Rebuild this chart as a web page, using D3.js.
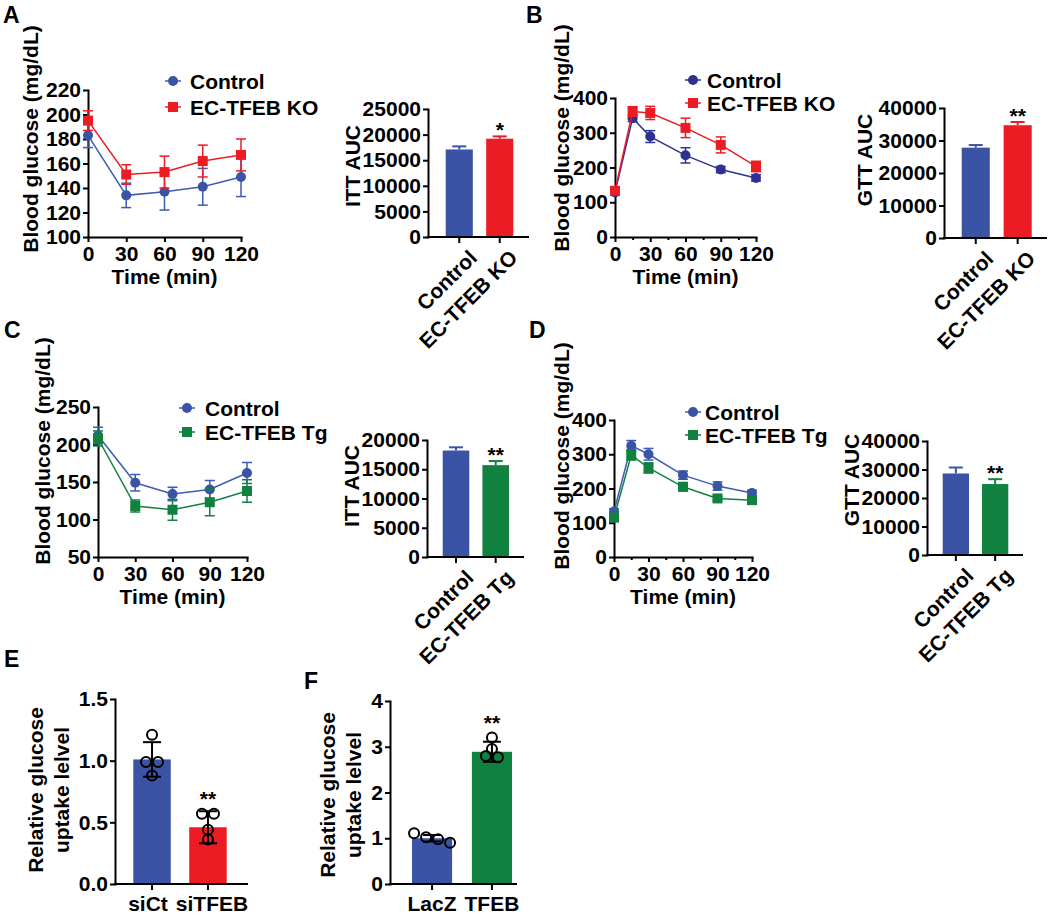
<!DOCTYPE html>
<html><head><meta charset="utf-8">
<script src="https://cdn.jsdelivr.net/npm/d3@7"></script>
<style>
body{margin:0;background:#fff}
svg text{font-family:"Liberation Sans",Arial,Helvetica,sans-serif;font-weight:bold;fill:#000}
</style></head><body>
<svg id="c" width="1049" height="916"></svg>
<script>
// ---------------- DATA ----------------
const timeTicks = [0, 30, 60, 90, 120];
const minorTicks = [15, 45, 75, 105];

// Panel A (ITT, EC-TFEB KO)
const A_time = [0, 30, 60, 90, 120];
const A_ctrl = [183, 134, 137, 141, 149];
const A_ctrlErr = [10, 10, 15, 15, 16];
const A_ko = [195, 151, 153, 162, 167];
const A_koErr = [8, 8, 13, 13, 13];
const A_yTicks = [100, 120, 140, 160, 180, 200, 220];

// Panel B (GTT, EC-TFEB KO)
const B_time = [0, 15, 30, 60, 90, 120];
const B_ctrl = [128, 342, 289, 235, 194, 170];
const B_ctrlErr = [8, 10, 17, 22, 9, 9];
const B_ko = [133, 361, 357, 314, 265, 203];
const B_koErr = [10, 14, 19, 28, 23, 15];
const B_yTicks = [0, 100, 200, 300, 400];

// Panel C (ITT, EC-TFEB Tg)
const C_time = [0, 30, 60, 90, 120];
const C_ctrl = [212, 149, 134, 140, 162];
const C_ctrlErr = [11, 11, 9, 12, 14];
const C_tg = [208, 118, 113, 123, 138];
const C_tgErr = [10, 8, 14, 18, 15];
const C_yTicks = [50, 100, 150, 200, 250];

// Panel D (GTT, EC-TFEB Tg)
const D_time = [0, 15, 30, 60, 90, 120];
const D_ctrl = [133, 325, 300, 239, 207, 187];
const D_ctrlErr = [8, 15, 17, 12, 12, 8];
const D_tg = [115, 298, 260, 205, 171, 166];
const D_tgErr = [8, 15, 15, 12, 6, 6];
const D_yTicks = [0, 100, 200, 300, 400];

// AUC bar panels
const catsKO = ["Control", "EC-TFEB KO"];
const catsTg = ["Control", "EC-TFEB Tg"];
const A_auc = [17100, 19200];
const A_aucErr = [600, 450];
const A_aucTicks = [0, 5000, 10000, 15000, 20000, 25000];
const A_sig = ["", "*"];
const B_auc = [27800, 34700];
const B_aucErr = [800, 1000];
const B_aucTicks = [0, 10000, 20000, 30000, 40000];
const B_sig = ["", "**"];
const C_auc = [18200, 15700];
const C_aucErr = [550, 700];
const C_aucTicks = [0, 5000, 10000, 15000, 20000];
const C_sig = ["", "**"];
const D_auc = [28600, 24900];
const D_aucErr = [2100, 1700];
const D_aucTicks = [0, 10000, 20000, 30000, 40000];
const D_sig = ["", "**"];

// Panel E (glucose uptake, siRNA)
const E_cats = ["siCt", "siTFEB"];
const E_mean = [1.01, 0.46];
const E_sd = [0.14, 0.13];
const E_pts = [[1.21, 0.99, 0.99, 0.88], [0.57, 0.57, 0.44, 0.36]];
const E_ticks = [0, 0.5, 1.0, 1.5];
const E_sig = ["", "**"];

// Panel F (glucose uptake, overexpression)
const F_cats = ["LacZ", "TFEB"];
const F_mean = [1.0, 2.89];
const F_sd = [0.07, 0.22];
const F_pts = [[1.11, 1.02, 0.98, 0.90], [3.20, 2.95, 2.80, 2.77]];
const F_ticks = [0, 1, 2, 3, 4];
const F_sig = ["", "**"];

// ---------------- STYLE ----------------
const BLUE = "#3A53A4", RED = "#EC1C24", GREEN = "#118140";
const LBLUE = "#3F5BB3", NAVY = "#2E3192";
const FS = 21;
const svg = d3.select("#c");

function styleAxis(g) {
  g.attr("font-size", FS).attr("font-family", null);
  g.selectAll("path,line").attr("stroke", "#000").attr("stroke-width", 2);
  g.select(".domain").attr("stroke-linecap", "square");
  g.selectAll("text").attr("fill", "#000");
}
function letter(t, x, y) {
  svg.append("text").attr("x", x).attr("y", y).attr("font-size", 23).text(t);
}
function yLabel(lines, x, yc, gap) {
  lines.forEach((t, i) => {
    svg.append("text").attr("transform", `translate(${x + i * gap},${yc}) rotate(-90)`)
      .attr("text-anchor", "middle").attr("font-size", FS).text(t);
  });
}

// ---------------- LINE PANELS ----------------
function marker(g, shape, cx, cy, color) {
  if (shape === "circle") g.append("circle").attr("cx", cx).attr("cy", cy).attr("r", 5).attr("fill", color);
  else g.append("rect").attr("x", cx - 5).attr("y", cy - 5).attr("width", 10).attr("height", 10).attr("fill", color);
}
function linePanel(o) {
  const x = d3.scaleLinear().domain([0, 120]).range(o.xr);
  const y = d3.scaleLinear().domain([o.yTicks[0], o.yTicks[o.yTicks.length - 1]]).range(o.yr);
  const gx = svg.append("g").attr("transform", `translate(0,${o.yr[0]})`)
    .call(d3.axisBottom(x).tickValues(timeTicks).tickSize(5).tickPadding(4).tickSizeOuter(0));
  styleAxis(gx);
  if (o.minor) {
    const gm = svg.append("g").attr("transform", `translate(0,${o.yr[0]})`)
      .call(d3.axisBottom(x).tickValues(minorTicks).tickSize(3).tickFormat(""));
    gm.select(".domain").remove();
    styleAxis(gm);
  }
  const gy = svg.append("g").attr("transform", `translate(${o.xr[0]},0)`)
    .call(d3.axisLeft(y).tickValues(o.yTicks).tickSize(5).tickPadding(2).tickSizeOuter(0));
  styleAxis(gy);
  svg.append("text").attr("x", (o.xr[0] + o.xr[1]) / 2).attr("y", o.yr[0] + 47)
    .attr("text-anchor", "middle").attr("font-size", FS).text("Time (min)");
  yLabel(["Blood glucose (mg/dL)"], o.ylx, o.ylc, 0);

  o.series.forEach(s => {
    const g = svg.append("g");
    s.vals.forEach((v, i) => {
      const cx = x(o.time[i]);
      g.append("line").attr("x1", cx).attr("x2", cx).attr("y1", y(v - s.err[i])).attr("y2", y(v + s.err[i]))
        .attr("stroke", s.color).attr("stroke-width", 1.5);
      [v - s.err[i], v + s.err[i]].forEach(e => g.append("line").attr("x1", cx - 5).attr("x2", cx + 5)
        .attr("y1", y(e)).attr("y2", y(e)).attr("stroke", s.color).attr("stroke-width", 1.5));
    });
    g.append("path").datum(s.vals)
      .attr("d", d3.line().x((d, i) => x(o.time[i])).y(d => y(d)))
      .attr("fill", "none").attr("stroke", s.color).attr("stroke-width", 1.5);
    s.vals.forEach((v, i) => marker(g, s.shape, x(o.time[i]), y(v), s.mcolor));
  });
  o.series.forEach((s, i) => {
    const ly = o.leg[1] + i * o.legGap;
    svg.append("line").attr("x1", o.leg[0] - 8).attr("x2", o.leg[0] + 8).attr("y1", ly).attr("y2", ly)
      .attr("stroke", s.color).attr("stroke-width", 1.5);
    marker(svg, s.shape, o.leg[0], ly, s.mcolor);
    svg.append("text").attr("x", o.legText).attr("y", ly).attr("dy", "0.36em")
      .attr("font-size", FS).text(s.name);
  });
}

// ---------------- BAR PANELS ----------------
function barPanel(o) {
  const y = d3.scaleLinear().domain([0, o.ticks[o.ticks.length - 1]]).range([o.axisY, o.topY]);
  const xb = d3.scaleBand().domain(o.cats).range(o.band).paddingInner(0.33);
  const gy = svg.append("g").attr("transform", `translate(${o.axisX},0)`)
    .call(d3.axisLeft(y).tickValues(o.ticks).tickSize(5).tickPadding(2).tickSizeOuter(0)
      .tickFormat(o.fmt || d3.format("d")));
  styleAxis(gy);
  const flatLabels = [];
  o.cats.forEach((c, i) => {
    const x0 = xb(c), w = xb.bandwidth(), cx = x0 + w / 2, v = o.vals[i];
    svg.append("rect").attr("x", x0).attr("y", y(v)).attr("width", w).attr("height", y(0) - y(v))
      .attr("fill", o.colors[i]);
    let top;
    if (o.pts) {
      const lo = y(v - o.err[i]), hi = y(v + o.err[i]);
      svg.append("line").attr("x1", cx).attr("x2", cx).attr("y1", lo).attr("y2", hi).attr("stroke", "#000").attr("stroke-width", 2);
      [lo, hi].forEach(e => svg.append("line").attr("x1", cx - 9).attr("x2", cx + 9).attr("y1", e).attr("y2", e).attr("stroke", "#000").attr("stroke-width", 2));
      const r = 5, sp = 12;
      const ys = o.pts[i].map(p => y(p));
      const rows = [];
      ys.forEach(py => {
        const last = rows[rows.length - 1];
        if (last && Math.abs(last[last.length - 1] - py) < r + 0.5) last.push(py); else rows.push([py]);
      });
      rows.forEach(row => row.forEach((py, k) => {
        svg.append("circle").attr("cx", cx + (k - (row.length - 1) / 2) * sp).attr("cy", py).attr("r", r)
          .attr("fill", "none").attr("stroke", "#000").attr("stroke-width", 2);
      }));
      top = Math.min(hi, d3.min(ys) - r) - 3;
    } else {
      const hi = y(v + o.err[i]);
      svg.append("line").attr("x1", cx).attr("x2", cx).attr("y1", y(v)).attr("y2", hi).attr("stroke", o.colors[i]).attr("stroke-width", 2);
      svg.append("line").attr("x1", cx - 7).attr("x2", cx + 7).attr("y1", hi).attr("y2", hi).attr("stroke", o.colors[i]).attr("stroke-width", 2);
      top = hi + 1;
    }
    if (o.sig[i]) svg.append("text").attr("x", cx).attr("y", top).attr("text-anchor", "middle")
      .attr("font-size", FS).text(o.sig[i]);
    svg.append("line").attr("x1", cx).attr("x2", cx).attr("y1", o.axisY).attr("y2", o.axisY + 6)
      .attr("stroke", "#000").attr("stroke-width", 2);
    if (o.rot) {
      svg.append("text").attr("transform", `translate(${cx + 19},${o.axisY + 22}) rotate(-45)`)
        .attr("text-anchor", "end").attr("font-size", FS).text(c);
    } else {
      flatLabels.push(svg.append("text").attr("x", cx).attr("y", o.axisY + 27).attr("text-anchor", "middle")
        .attr("font-size", FS).text(c));
    }
  });
  // push horizontal labels apart if they collide
  for (let i = 1; i < flatLabels.length; i++) {
    const a = flatLabels[i - 1], b = flatLabels[i];
    const ax = +a.attr("x"), bx = +b.attr("x");
    const need = a.node().getComputedTextLength() / 2 + b.node().getComputedTextLength() / 2 + 8;
    if (bx - ax < need) {
      const d = (need - (bx - ax)) / 2;
      a.attr("x", ax - d); b.attr("x", bx + d);
    }
  }
  svg.append("line").attr("x1", o.axisX).attr("x2", o.endX).attr("y1", o.axisY).attr("y2", o.axisY)
    .attr("stroke", "#000").attr("stroke-width", 2).attr("stroke-linecap", "square");
  yLabel(o.ylabel, o.ylx, o.ylc, 26);
}

// ---------------- DRAW ----------------
letter("A", 3, 23); letter("B", 526, 23); letter("C", 4, 338); letter("D", 529, 338);
letter("E", 4, 667); letter("F", 304, 689);

linePanel({ xr: [88, 241], yr: [237, 90], yTicks: A_yTicks, time: A_time, minor: false,
  ylx: 38, ylc: 139, leg: [173, 81], legGap: 26, legText: 190,
  series: [
    { name: "Control", vals: A_ctrl, err: A_ctrlErr, color: LBLUE, mcolor: BLUE, shape: "circle" },
    { name: "EC-TFEB KO", vals: A_ko, err: A_koErr, color: RED, mcolor: RED, shape: "square" }] });

linePanel({ xr: [615, 756], yr: [237, 98], yTicks: B_yTicks, time: B_time, minor: true,
  ylx: 569, ylc: 138, leg: [693, 80], legGap: 23, legText: 707,
  series: [
    { name: "Control", vals: B_ctrl, err: B_ctrlErr, color: NAVY, mcolor: NAVY, shape: "circle" },
    { name: "EC-TFEB KO", vals: B_ko, err: B_koErr, color: RED, mcolor: RED, shape: "square" }] });

linePanel({ xr: [98, 247], yr: [557, 407], yTicks: C_yTicks, time: C_time, minor: false,
  ylx: 50, ylc: 451, leg: [187, 408], legGap: 24, legText: 205,
  series: [
    { name: "Control", vals: C_ctrl, err: C_ctrlErr, color: LBLUE, mcolor: BLUE, shape: "circle" },
    { name: "EC-TFEB Tg", vals: C_tg, err: C_tgErr, color: GREEN, mcolor: GREEN, shape: "square" }] });

linePanel({ xr: [614, 752], yr: [557, 420], yTicks: D_yTicks, time: D_time, minor: true,
  ylx: 569, ylc: 456, leg: [693, 412], legGap: 23, legText: 705,
  series: [
    { name: "Control", vals: D_ctrl, err: D_ctrlErr, color: LBLUE, mcolor: BLUE, shape: "circle" },
    { name: "EC-TFEB Tg", vals: D_tg, err: D_tgErr, color: GREEN, mcolor: GREEN, shape: "square" }] });

barPanel({ cats: catsKO, vals: A_auc, err: A_aucErr, ticks: A_aucTicks, sig: A_sig, colors: [BLUE, RED],
  axisX: 428, axisY: 237, topY: 109, band: [445.7, 513.3], endX: 528, rot: true,
  ylabel: ["ITT AUC"], ylx: 360, ylc: 166 });
barPanel({ cats: catsKO, vals: B_auc, err: B_aucErr, ticks: B_aucTicks, sig: B_sig, colors: [BLUE, RED],
  axisX: 944, axisY: 238, topY: 108, band: [961.7, 1031.7], endX: 1046, rot: true,
  ylabel: ["GTT AUC"], ylx: 872, ylc: 160 });
barPanel({ cats: catsTg, vals: C_auc, err: C_aucErr, ticks: C_aucTicks, sig: C_sig, colors: [BLUE, GREEN],
  axisX: 427, axisY: 557, topY: 440, band: [442.7, 509], endX: 523, rot: true,
  ylabel: ["ITT AUC"], ylx: 359, ylc: 486 });
barPanel({ cats: catsTg, vals: D_auc, err: D_aucErr, ticks: D_aucTicks, sig: D_sig, colors: [BLUE, GREEN],
  axisX: 927, axisY: 555, topY: 441, band: [942.7, 1008.3], endX: 1022, rot: true,
  ylabel: ["GTT AUC"], ylx: 859, ylc: 480 });

barPanel({ cats: E_cats, vals: E_mean, err: E_sd, pts: E_pts, ticks: E_ticks, sig: E_sig, colors: [BLUE, RED],
  axisX: 115, axisY: 884, topY: 699, band: [133.3, 226.7], endX: 247, rot: false, fmt: d3.format(".1f"),
  ylabel: ["Relative glucose", "uptake lelvel"], ylx: 43, ylc: 790 });
barPanel({ cats: F_cats, vals: F_mean, err: F_sd, pts: F_pts, ticks: F_ticks, sig: F_sig, colors: [BLUE, GREEN],
  axisX: 390, axisY: 884, topY: 701, band: [412, 512], endX: 516, rot: false, fmt: d3.format("d"),
  ylabel: ["Relative glucose", "uptake lelvel"], ylx: 335, ylc: 795 });
</script>
</body></html>
